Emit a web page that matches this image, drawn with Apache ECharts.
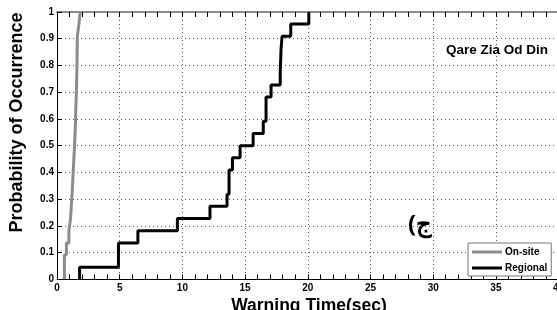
<!DOCTYPE html>
<html><head><meta charset="utf-8">
<script src="https://cdn.jsdelivr.net/npm/echarts@6/dist/echarts.min.js"></script>
<style>html,body{margin:0;padding:0;background:#fff}#c{width:557px;height:310px}</style>
</head><body><div id="c"></div>
<script>
const onsiteX = [0.59, 0.59, 0.75, 0.95, 1.08, 1.14, 1.2, 1.25, 1.3, 1.35, 1.4, 1.44, 1.48, 1.5, 1.53, 1.56, 1.58, 1.6, 1.62, 1.75, 1.85];
const onsiteP = [0, 0.091, 0.136, 0.182, 0.227, 0.273, 0.318, 0.364, 0.409, 0.455, 0.5, 0.545, 0.591, 0.636, 0.682, 0.727, 0.773, 0.818, 0.909, 0.955, 1.0];
const regionalX = [1.8, 1.8, 4.9, 6.45, 9.6, 12.2, 13.56, 13.72, 13.99, 14.6, 15.64, 16.45, 16.67, 17.07, 17.8, 17.87, 17.95, 18.64, 20.08];
const regionalP = [0, 0.0455, 0.136, 0.182, 0.227, 0.273, 0.318, 0.409, 0.455, 0.5, 0.545, 0.591, 0.682, 0.727, 0.773, 0.864, 0.909, 0.955, 1.0];
const seriesNames = ['On-site', 'Regional'];
const xTicks = {min: 0, max: 40, step: 5};
const yTicks = {min: 0, max: 1, step: 0.1};

const zip = (a, b) => a.map((v, i) => [v, b[i]]);
const FONT = 'Liberation Sans, Arial, sans-serif';
const chart = echarts.init(document.getElementById('c'));
const gridDotted = {show: true, lineStyle: {color: '#555', type: [1, 3], width: 1}};
chart.setOption({
  animation: false,
  grid: {left: 57, top: 12, width: 501.6, height: 267.3, outerBoundsMode: 'none', containLabel: false},
  xAxis: [{
    type: 'value', min: xTicks.min, max: xTicks.max, interval: xTicks.step,
    axisLine: {lineStyle: {color: '#000', width: 1}},
    axisTick: {inside: true, length: 5, lineStyle: {color: '#000'}},
    minorTick: {show: true, splitNumber: 5, length: 5, lineStyle: {color: '#000'}},
    axisLabel: {margin: 4, color: '#000', fontFamily: FONT, fontWeight: 'bold', fontSize: 10},
    splitLine: gridDotted
  }, {
    type: 'value', position: 'top', min: xTicks.min, max: xTicks.max, interval: xTicks.step,
    axisLine: {lineStyle: {color: '#8c8c8c', width: 2}},
    axisTick: {inside: true, length: 5, lineStyle: {color: '#000'}},
    minorTick: {show: true, splitNumber: 5, length: 5, lineStyle: {color: '#000'}},
    axisLabel: {show: false}, splitLine: {show: false}
  }],
  yAxis: {
    type: 'value', min: yTicks.min, max: yTicks.max, interval: yTicks.step,
    axisLine: {show: true, lineStyle: {color: '#000', width: 1}},
    axisTick: {show: true, inside: true, length: 5, lineStyle: {color: '#000'}},
    axisLabel: {margin: 3, color: '#000', fontFamily: FONT, fontWeight: 'bold', fontSize: 10},
    splitLine: gridDotted
  },
  legend: {
    left: 468, top: 243, orient: 'vertical',
    backgroundColor: '#fff', borderColor: '#777', borderWidth: 1,
    padding: [4, 4, 3, 4], itemGap: 6, itemWidth: 30, itemHeight: 3,
    icon: 'rect',
    textStyle: {fontFamily: FONT, fontWeight: 'bold', fontSize: 10, color: '#000', padding: [0, 0, 0, -2]},
    data: seriesNames
  },
  series: [
    {name: seriesNames[0], type: 'line', step: 'end', symbol: 'none', data: zip(onsiteX, onsiteP),
     lineStyle: {color: '#8c8c8c', width: 3}, itemStyle: {color: '#8c8c8c'}, z: 3},
    {name: seriesNames[1], type: 'line', step: 'end', symbol: 'none', data: zip(regionalX, regionalP),
     lineStyle: {color: '#000', width: 3}, itemStyle: {color: '#000'}, z: 4}
  ],
  graphic: [
    {type: 'text', x: 309, y: 306, style: {text: 'Warning Time(sec)', font: 'bold 17.5px ' + FONT, fill: '#000', align: 'center', verticalAlign: 'middle'}},
    {type: 'text', x: 17, y: 122.5, rotation: Math.PI / 2, style: {text: 'Probability of Occurrence', font: 'bold 18px ' + FONT, fill: '#000', align: 'center', verticalAlign: 'middle'}},
    {type: 'text', x: 497, y: 50, style: {text: 'Qare Zia Od Din', font: 'bold 13.5px ' + FONT, fill: '#000', align: 'center', verticalAlign: 'middle'}},
    {type: 'text', x: 420, y: 225, style: {text: '(ج', font: 'bold 24px "Noto Sans", ' + FONT, fill: '#000', align: 'center', verticalAlign: 'middle'}}
  ]
});
</script></body></html>
